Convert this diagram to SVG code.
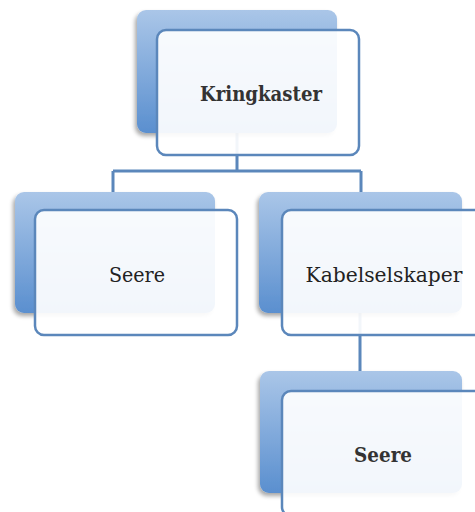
<svg xmlns="http://www.w3.org/2000/svg" width="475" height="512" viewBox="0 0 475 512">
<defs>
<linearGradient id="g" x1="0" y1="0" x2="0" y2="1">
<stop offset="0" stop-color="#aac6e8"/>
<stop offset="1" stop-color="#5a8fcf"/>
</linearGradient>
<filter id="sh" x="-10%" y="-10%" width="125%" height="125%">
<feGaussianBlur in="SourceAlpha" stdDeviation="2"/>
<feOffset dx="-2" dy="3"/>
<feComponentTransfer><feFuncA type="linear" slope="0.35"/></feComponentTransfer>
<feMerge><feMergeNode/><feMergeNode in="SourceGraphic"/></feMerge>
</filter>
<style>
.back{fill:url(#g);filter:url(#sh)}
.front{fill:#fff;fill-opacity:0.92;stroke:#5b87bb;stroke-width:2.5}
.conn{stroke:#5b87bb;stroke-width:3;fill:none}
.t{font-family:"DejaVu Serif","Liberation Serif",serif;font-size:20px;fill:#222;text-anchor:middle}
.b{font-weight:bold;fill:#333}
</style>
</defs>
<rect width="475" height="512" fill="#fff"/>
<g id="connectors">
<path class="conn" d="M237 133 V171 M113 171 H361 M113 171 V192 M361 171 V192 M360 313 V371"/>
</g>
<g id="n-kringkaster">
<rect class="back" x="137" y="10" width="200" height="123" rx="9"/>
<rect class="front" x="157" y="30" width="202" height="125" rx="9"/>
<text class="t b" x="261" y="101" textLength="122" lengthAdjust="spacingAndGlyphs">Kringkaster</text>
</g>
<g id="n-seere1">
<rect class="back" x="15" y="192" width="200" height="121" rx="9"/>
<rect class="front" x="35" y="210" width="202" height="125" rx="9"/>
<text class="t" x="137" y="282" textLength="56" lengthAdjust="spacingAndGlyphs">Seere</text>
</g>
<g id="n-kabel">
<rect class="back" x="259" y="192" width="203" height="121" rx="9"/>
<rect class="front" x="282" y="210" width="202" height="125" rx="9"/>
<text class="t" x="384" y="282" textLength="157" lengthAdjust="spacingAndGlyphs">Kabelselskaper</text>
</g>
<g id="n-seere2">
<rect class="back" x="260" y="371" width="202" height="122" rx="9"/>
<rect class="front" x="282" y="391" width="202" height="125" rx="9"/>
<text class="t b" x="383" y="462" textLength="58" lengthAdjust="spacingAndGlyphs">Seere</text>
</g>
</svg>
